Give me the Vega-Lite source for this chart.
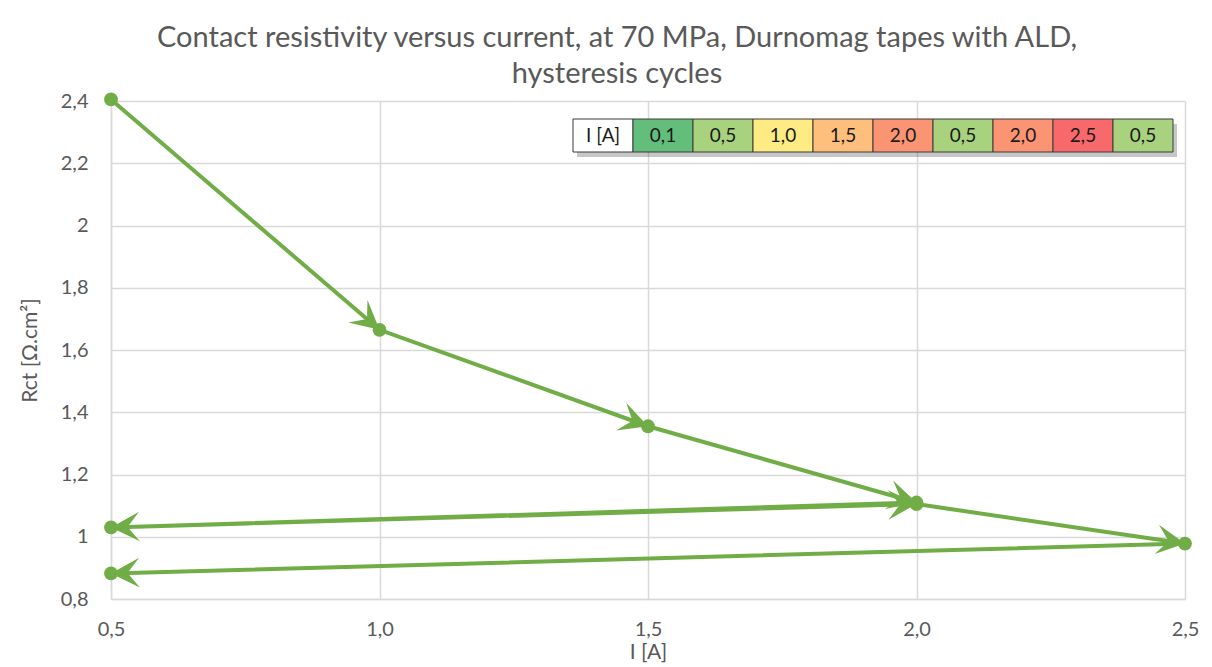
{
  "$schema": "https://vega.github.io/schema/vega-lite/v6.json",
  "width": 1074,
  "height": 498,
  "autosize": {"type": "none"},
  "padding": {"left": 111, "top": 101, "right": 27, "bottom": 68},
  "background": "white",
  "config": {
    "font": "Lato",
    "locale": {"number": {"decimal": ",", "thousands": ".", "grouping": [3], "currency": ["", " €"]}},
    "view": {"stroke": null}
  },
  "title": {
    "text": ["Contact resistivity versus current, at 70 MPa, Durnomag tapes with ALD,", "hysteresis cycles"],
    "fontSize": 29,
    "fontWeight": "normal",
    "color": "#595959",
    "lineHeight": 36,
    "anchor": "middle",
    "dx": -31,
    "offset": 2
  },
  "layer": [
    {
      "data": {"values": [
        {"step": 1, "I": 0.5, "R": 2.405},
        {"step": 2, "I": 1.0, "R": 1.665},
        {"step": 3, "I": 1.5, "R": 1.355},
        {"step": 4, "I": 2.0, "R": 1.11},
        {"step": 5, "I": 0.5, "R": 1.03},
        {"step": 6, "I": 2.0, "R": 1.105},
        {"step": 7, "I": 2.5, "R": 0.978},
        {"step": 8, "I": 0.5, "R": 0.882}
      ]},
      "encoding": {
        "x": {"field": "I", "type": "quantitative",
          "scale": {"domain": [0.5, 2.5], "nice": false, "zero": false},
          "axis": {"values": [0.5, 1, 1.5, 2, 2.5], "format": ".1f", "grid": true, "gridColor": "#D9D9D9", "gridWidth": 1.5,
            "domainColor": "#D9D9D9", "domainWidth": 1.5, "ticks": false, "labelFontSize": 20, "labelColor": "#595959", "labelFlush": false,
            "labelPadding": 20, "title": "I [A]", "titleFontSize": 21, "titleFontWeight": "normal", "titleColor": "#595959", "titlePadding": 2}},
        "y": {"field": "R", "type": "quantitative",
          "scale": {"domain": [0.8, 2.4], "nice": false, "zero": false},
          "axis": {"values": [0.8, 1, 1.2, 1.4, 1.6, 1.8, 2, 2.2, 2.4], "format": ".2~g", "grid": true, "gridColor": "#D9D9D9", "gridWidth": 1.5,
            "domainColor": "#D9D9D9", "domainWidth": 1.5, "ticks": false, "labelFontSize": 20, "labelColor": "#595959",
            "labelPadding": 23, "title": "Rct [Ω.cm²]", "titleFontSize": 21, "titleFontWeight": "normal", "titleColor": "#595959", "titlePadding": 20}}
      },
      "layer": [
        {"mark": {"type": "line", "color": "#70AD47", "strokeWidth": 4, "clip": false},
         "encoding": {"order": {"field": "step", "type": "quantitative"}}},
        {"mark": {"type": "point", "shape": "circle", "filled": true, "color": "#70AD47", "opacity": 1, "size": 190, "clip": false}},
        {"transform": [
          {"window": [{"op": "lag", "field": "I", "as": "I0"}, {"op": "lag", "field": "R", "as": "R0"}], "sort": [{"field": "step"}]},
          {"filter": "datum.step > 1"},
          {"calculate": "atan2((datum.I - datum.I0) * 537, (datum.R - datum.R0) * 311.25) * 180 / PI", "as": "ang"}
         ],
         "mark": {"type": "point", "shape": "M0,0 L1.3,2.5 L0,1.45 L-1.3,2.5 Z", "filled": true, "color": "#70AD47", "opacity": 1, "size": 520, "clip": false},
         "encoding": {"angle": {"field": "ang", "type": "quantitative", "scale": null}}}
      ]
    },
    {
      "data": {"values": [
        {"cell": 0, "label": "I [A]"},
        {"cell": 1, "label": "0,1"},
        {"cell": 2, "label": "0,5"},
        {"cell": 3, "label": "1,0"},
        {"cell": 4, "label": "1,5"},
        {"cell": 5, "label": "2,0"},
        {"cell": 6, "label": "0,5"},
        {"cell": 7, "label": "2,0"},
        {"cell": 8, "label": "2,5"},
        {"cell": 9, "label": "0,5"}
      ]},
      "encoding": {
        "x": {"field": "cell", "type": "ordinal", "scale": {"range": [462, 1062], "paddingInner": 0, "paddingOuter": 0}, "axis": null},
        "y": {"datum": "row", "type": "nominal", "scale": {"range": [18, 51], "paddingInner": 0, "paddingOuter": 0}, "axis": null}
      },
      "layer": [
        {"mark": {"type": "rect", "color": "#000000", "opacity": 0.22, "xOffset": 4, "yOffset": 5}},
        {"mark": {"type": "rect", "stroke": "#3a3a3a", "strokeWidth": 1},
         "encoding": {"fill": {"field": "label", "type": "nominal", "legend": null,
           "scale": {"domain": ["I [A]", "0,1", "0,5", "1,0", "1,5", "2,0", "2,5"],
                     "range": ["#FFFFFF", "#63BE7B", "#A9D27F", "#FFEB84", "#FDBF7B", "#FA9473", "#F8696B"]}}}},
        {"mark": {"type": "text", "fontSize": 19, "color": "#1a1a1a", "align": "center", "baseline": "middle"},
         "encoding": {"text": {"field": "label", "type": "nominal"}}}
      ]
    }
  ],
  "resolve": {"scale": {"x": "independent", "y": "independent"}}
}
